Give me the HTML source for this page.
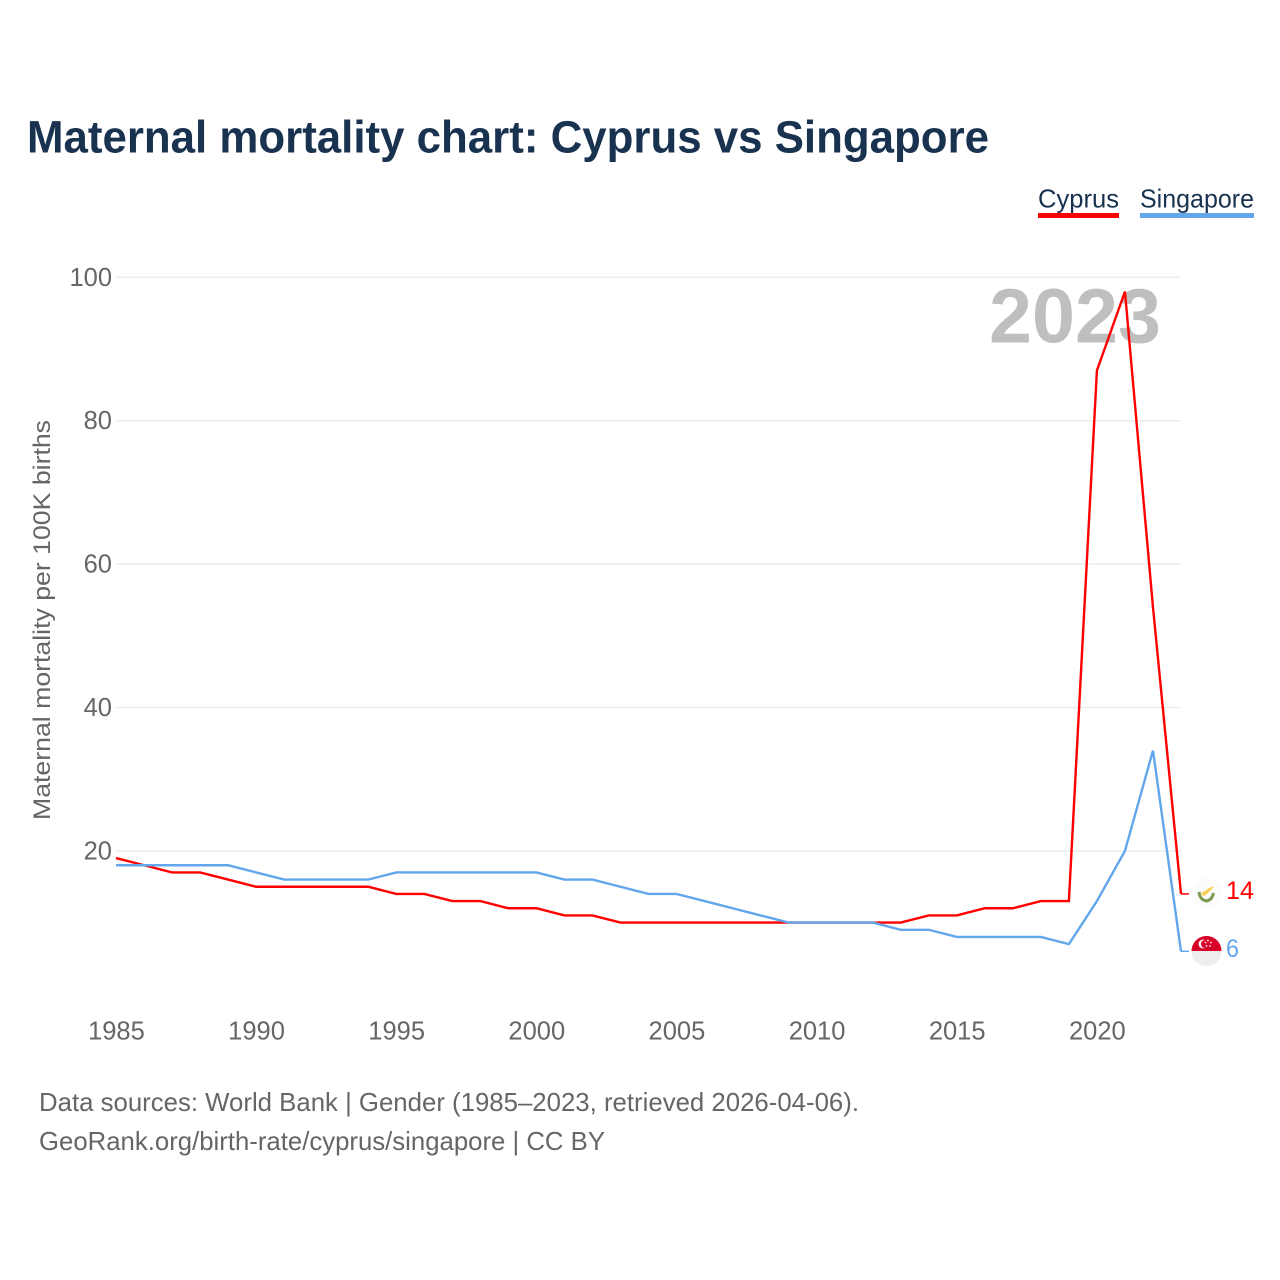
<!DOCTYPE html>
<html lang="en">
<head>
<meta charset="utf-8">
<title>Maternal mortality chart: Cyprus vs Singapore</title>
<style>
  html, body { margin: 0; padding: 0; background: #fff; }
  svg { display: block; font-family: "Liberation Sans", sans-serif; }
</style>
</head>
<body>
<svg id="chart" xmlns="http://www.w3.org/2000/svg" width="1280" height="1280" viewBox="0 0 1280 1280">
  <rect x="0" y="0" width="1280" height="1280" fill="#ffffff"/>
  <text x="27" y="152.5" font-size="45" font-weight="700" fill="#18324f" textLength="962" lengthAdjust="spacingAndGlyphs">Maternal mortality chart: Cyprus vs Singapore</text>

  <g>
    <text x="1038" y="207.5" font-size="26" fill="#18324f" textLength="81" lengthAdjust="spacingAndGlyphs">Cyprus</text>
    <rect x="1038" y="213" width="81" height="5" fill="#ff0000"/>
  </g>
  <g>
    <text x="1140" y="207.5" font-size="26" fill="#18324f" textLength="114" lengthAdjust="spacingAndGlyphs">Singapore</text>
    <rect x="1140" y="213" width="114" height="5" fill="#62a6ec"/>
  </g>

  <g id="grid"></g>
  <g id="y-ticks"></g>
  <g id="x-ticks"></g>

  <text x="989" y="342.5" font-size="77" font-weight="700" fill="#bfbfbf" textLength="172" lengthAdjust="spacingAndGlyphs">2023</text>

  <text transform="translate(50 820) rotate(-90)" x="0" y="0" font-size="24.5" fill="#666666" textLength="400" lengthAdjust="spacingAndGlyphs">Maternal mortality per 100K births</text>

  <g id="series"></g>

  <g>
    <circle cx="1206.5" cy="893" r="15" fill="#fbfbfb"/>
    <path d="M1201 893 L1205 891 L1209 888 L1214 886 L1212 889 L1208 893 L1204 896 L1202 895 Z" fill="#f5cf55"/>
    <path d="M1199 892 Q1200 900 1206.5 901 Q1212 900 1213.5 893" fill="none" stroke="#7d9a52" stroke-width="3"/>
  </g>
  <g>
    <clipPath id="sg-clip"><circle cx="1206.5" cy="951" r="15"/></clipPath>
    <g clip-path="url(#sg-clip)">
      <rect x="1191" y="936" width="31" height="30" fill="#eeeeee"/>
      <rect x="1191" y="936" width="31" height="15" fill="#d80027"/>
    </g>
    <circle cx="1203" cy="944" r="4.5" fill="#f4f4f4"/>
    <circle cx="1205" cy="944" r="4" fill="#d80027"/>
    <g fill="#f4f4f4">
      <circle cx="1208" cy="940.5" r="0.9"/><circle cx="1211" cy="942.5" r="0.9"/><circle cx="1210" cy="946" r="0.9"/><circle cx="1206.5" cy="946" r="0.9"/><circle cx="1205.5" cy="942.5" r="0.9"/>
    </g>
  </g>

  <text id="end-cyprus" x="1226" y="899" font-size="25" fill="#ff0000" textLength="28" lengthAdjust="spacingAndGlyphs"></text>
  <text id="end-singapore" x="1226" y="957" font-size="25" fill="#62a6ec" textLength="13" lengthAdjust="spacingAndGlyphs"></text>

  <text x="39" y="1111" font-size="26" fill="#666666" textLength="820" lengthAdjust="spacingAndGlyphs">Data sources: World Bank | Gender (1985–2023, retrieved 2026-04-06).</text>
  <text x="39" y="1150" font-size="26" fill="#666666" textLength="566" lengthAdjust="spacingAndGlyphs">GeoRank.org/birth-rate/cyprus/singapore | CC BY</text>
</svg>

<script>
const years = [1985,1986,1987,1988,1989,1990,1991,1992,1993,1994,1995,1996,1997,1998,1999,2000,2001,2002,2003,2004,2005,2006,2007,2008,2009,2010,2011,2012,2013,2014,2015,2016,2017,2018,2019,2020,2021,2022,2023];
const cyprusValues = [19,18,17,17,16,15,15,15,15,15,14,14,13,13,12,12,11,11,10,10,10,10,10,10,10,10,10,10,10,11,11,12,12,13,13,87,98,54,14];
const singaporeValues = [18,18,18,18,18,17,16,16,16,16,17,17,17,17,17,17,16,16,15,14,14,13,12,11,10,10,10,10,9,9,8,8,8,8,7,13,20,34,6];
const yTickValues = [20,40,60,80,100];
const xTickValues = [1985,1990,1995,2000,2005,2010,2015,2020];

const NS = 'http://www.w3.org/2000/svg';
const xScale = function (year) { return 116 + (year - 1985) * (1181 - 116) / 38; };
const yScale = function (value) { return 994.3 - value * 7.17; };

const gridGroup = document.getElementById('grid');
const yTickGroup = document.getElementById('y-ticks');
const xTickGroup = document.getElementById('x-ticks');
const seriesGroup = document.getElementById('series');

yTickValues.forEach(function (value) {
  const line = document.createElementNS(NS, 'line');
  
  
  line.setAttribute('x1', xScale(1985));
  line.setAttribute('x2', xScale(2023));
  line.setAttribute('y1', yScale(value));
  line.setAttribute('y2', yScale(value));
  line.setAttribute('stroke', '#ececec');
  line.setAttribute('stroke-width', '1.5');
  gridGroup.appendChild(line);

  const label = document.createElementNS(NS, 'text');
  
  
  label.setAttribute('x', 112);
  label.setAttribute('y', yScale(value) + 8.5);
  label.setAttribute('text-anchor', 'end');
  label.setAttribute('font-size', '25.5');
  label.setAttribute('fill', '#666666');
  label.textContent = String(value);
  yTickGroup.appendChild(label);
});

xTickValues.forEach(function (year) {
  const label = document.createElementNS(NS, 'text');
  
  
  label.setAttribute('x', xScale(year) + 0.4);
  label.setAttribute('y', 1039.5);
  label.setAttribute('text-anchor', 'middle');
  label.setAttribute('font-size', '25.5');
  label.setAttribute('fill', '#666666');
  label.textContent = String(year);
  xTickGroup.appendChild(label);
});

function drawSeries(values, color, name) {
  const points = values.map(function (value, i) {
    return xScale(years[i]).toFixed(2) + ',' + yScale(value).toFixed(2);
  }).join(' ');
  const line = document.createElementNS(NS, 'polyline');
  
  
  line.setAttribute('points', points);
  line.setAttribute('fill', 'none');
  line.setAttribute('stroke', color);
  line.setAttribute('stroke-width', '2.4');
  line.setAttribute('stroke-linejoin', 'miter');
  seriesGroup.appendChild(line);

  const lastY = yScale(values[values.length - 1]);
  const stub = document.createElementNS(NS, 'line');
  
  
  stub.setAttribute('x1', xScale(2023));
  stub.setAttribute('x2', xScale(2023) + 8);
  stub.setAttribute('y1', lastY);
  stub.setAttribute('y2', lastY);
  stub.setAttribute('stroke', color);
  stub.setAttribute('stroke-width', '1.5');
  seriesGroup.appendChild(stub);
}

drawSeries(cyprusValues, '#ff0000', 'line-cyprus');
drawSeries(singaporeValues, '#62a6ec', 'line-singapore');

document.getElementById('end-cyprus').textContent = String(cyprusValues[cyprusValues.length - 1]);
document.getElementById('end-singapore').textContent = String(singaporeValues[singaporeValues.length - 1]);
</script>
</body>
</html>
